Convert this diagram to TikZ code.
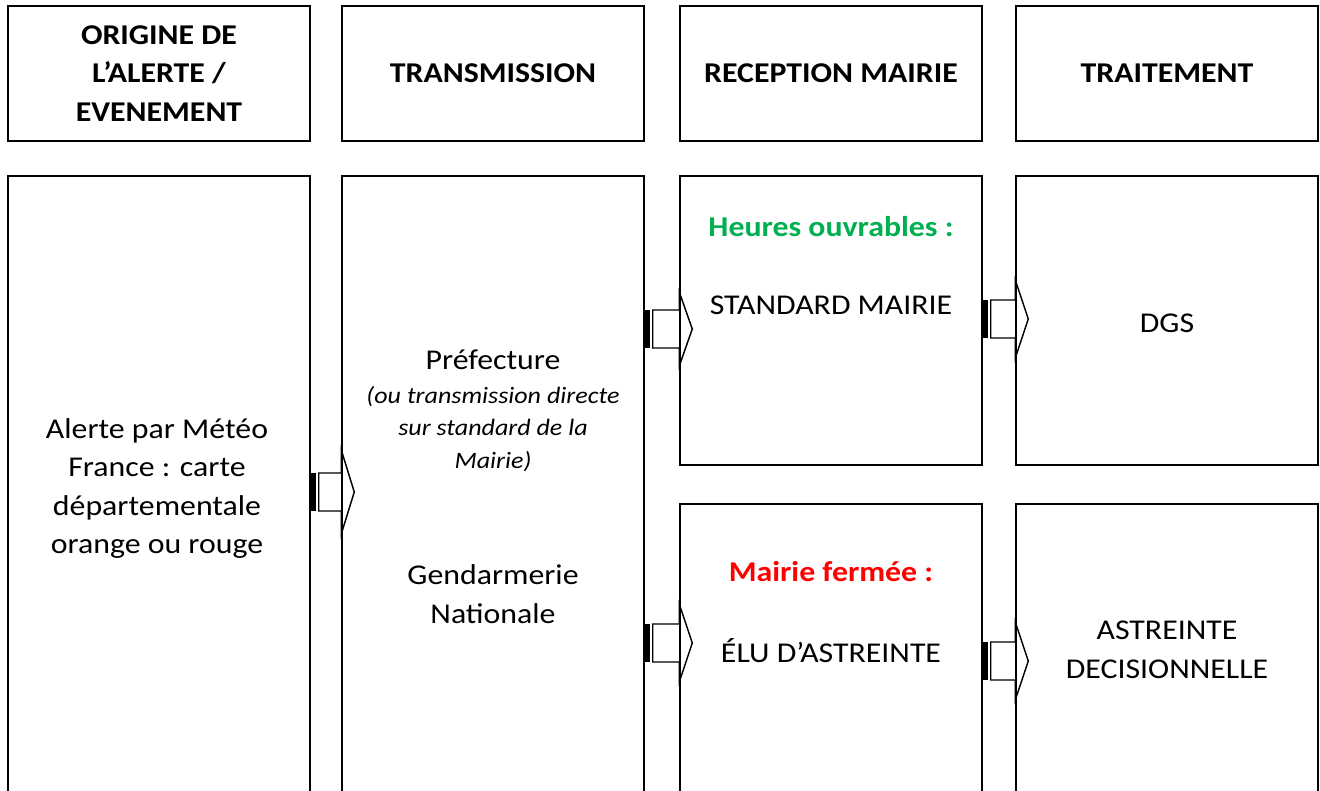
\documentclass[tikz,border=0pt]{standalone}
\usepackage{fontspec}
\setmainfont{Carlito}[FakeStretch=1.11]
\usetikzlibrary{calc}
\definecolor{vertheure}{HTML}{00B050}
\definecolor{rougeferme}{HTML}{FF0000}

\tikzset{
	entete/.style={draw, line width=1.5pt, minimum width=226.5pt, minimum height=101.25pt, inner sep=0pt},
	colonne/.style={draw, line width=1.1pt, minimum width=226.5pt, inner sep=0pt},
	texte/.style={align=center, font=\fontsize{21.5}{28.9}\selectfont, inner sep=0pt},
	titre/.style={texte, font=\fontsize{21.5}{28.9}\selectfont\bfseries},
	note/.style={align=center, font=\fontsize{17.6}{24.7}\selectfont\itshape, inner sep=0pt},
	fleche/.style={line width=1.1pt, line join=miter},
}

% fleche rayee : #1 depart, #2 arrivee, #3 hauteur, #4 demi-hauteur de la pointe
\newcommand{\stripearrow}[4]{%
	\coordinate (sa) at (#1.east |- 0,#3);
	\coordinate (sb) at (#2.west |- 0,#3);
	\fill ($(sa)+(-1.5,-19)$) rectangle ($(sa)+(5,19)$);
	\draw[fleche] ($(sa)+(8,-19)$) -- ($(sb)+(0,-19)$) -- ($(sb)+(0,-#4)$)
		-- ($(sb)+(13,0)$) -- ($(sb)+(0,#4)$) -- ($(sb)+(0,19)$) -- ($(sa)+(8,19)$) -- cycle;
}

\begin{document}
\begin{tikzpicture}[x=0.75pt, y=-0.75pt]
	
	\useasboundingbox (0,0) rectangle (1320,791);
	
	%--- En-tetes ---
	\node[entete, titre] (origine) at (159,73.5) {ORIGINE DE\\L’ALERTE /\\EVENEMENT};
	\node[entete, titre] (transmission) at (493,73.5) {TRANSMISSION};
	\node[entete, titre] (reception) at (831,73.5) {RECEPTION MAIRIE};
	\node[entete, titre] (traitement) at (1167,73.5) {TRAITEMENT};
	
	%--- Colonnes ---
	\node[colonne, minimum height=483pt] (alerte) at (159,498) {};
	\node[colonne, minimum height=483pt] (prefecture) at (493,498) {};
	\node[colonne, minimum height=216.75pt] (ouvrable) at (831,320.5) {};
	\node[colonne, minimum height=237pt] (fermee) at (831,662) {};
	\node[colonne, minimum height=216.75pt] (dgs) at (1167,320.5) {};
	\node[colonne, minimum height=237pt] (astreinte) at (1167,662) {};
	
	%--- Textes ---
	\node[texte] (alertetxt) at (157,488.5) {Alerte par Météo\\France : carte\\départementale\\orange ou rouge};
	\node[texte] (preftxt) at (493,360) {Préfecture};
	\node[note] (prefnote) at (493,429) {(ou transmission directe\\sur standard de la\\Mairie)};
	\node[texte] (gendtxt) at (493,594) {Gendarmerie\\Nationale};
	\node[titre, text=vertheure] (heures) at (831,227) {Heures ouvrables :};
	\node[texte] (standard) at (831,305) {STANDARD MAIRIE};
	\node[titre, text=rougeferme] (mairie) at (831,572) {Mairie fermée :};
	\node[texte] (elu) at (831,651) {ÉLU D’ASTREINTE};
	\node[texte] (dgstxt) at (1167,323) {DGS};
	\node[texte] (astrtxt) at (1167,650) {ASTREINTE\\DECISIONNELLE};
	
	%--- Fleches ---
	\stripearrow{alerte}{prefecture}{492}{42}
	\stripearrow{prefecture}{ouvrable}{329}{37}
	\stripearrow{ouvrable}{dgs}{319}{39}
	\stripearrow{prefecture}{fermee}{643}{39}
	\stripearrow{fermee}{astreinte}{661}{39}
	
\end{tikzpicture}
\end{document}
